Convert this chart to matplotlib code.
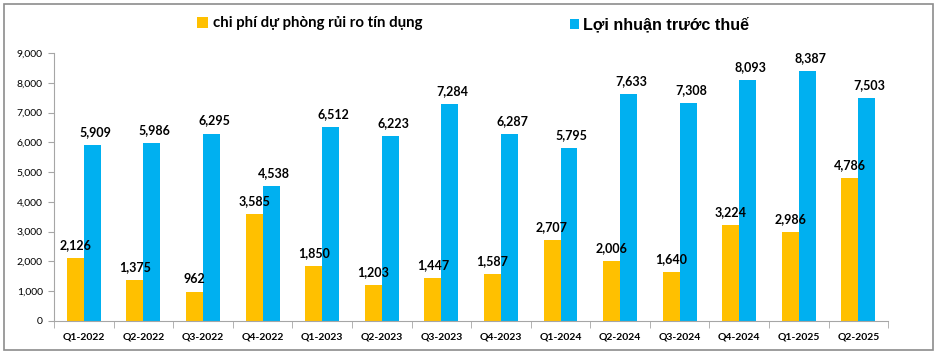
import matplotlib
matplotlib.use("Agg")
import matplotlib.pyplot as plt
from matplotlib.patches import Rectangle
import numpy as np

quarters = ["Q1-2022", "Q2-2022", "Q3-2022", "Q4-2022", "Q1-2023", "Q2-2023", "Q3-2023",
            "Q4-2023", "Q1-2024", "Q2-2024", "Q3-2024", "Q4-2024", "Q1-2025", "Q2-2025"]
provision = [2126, 1375, 962, 3585, 1850, 1203, 1447, 1587, 2707, 2006, 1640, 3224, 2986, 4786]
profit = [5909, 5986, 6295, 4538, 6512, 6223, 7284, 6287, 5795, 7633, 7308, 8093, 8387, 7503]

ORANGE = "#FFC000"
BLUE = "#00B0F0"
AXIS = "#A6A6A6"

fig = plt.figure(figsize=(9.37, 3.53), dpi=100)
ax = fig.add_axes([0.0576, 0.0907, 0.8904, 0.7593])

x = np.arange(len(quarters))
w = 0.285
b1 = ax.bar(x - w / 2, provision, w, color=ORANGE, label="chi phí dự phòng rủi ro tín dụng")
b2 = ax.bar(x + w / 2, profit, w, color=BLUE, label="Lợi nhuận trước thuế")

for xi, v in zip(x, provision):
    ax.annotate(f"{v:,}", (xi - w / 2, v), xytext=(0, 5), textcoords="offset points",
                ha="center", va="bottom", fontsize=9, fontweight="bold", family="Lato")
for xi, v in zip(x, profit):
    ax.annotate(f"{v:,}", (xi + w / 2, v), xytext=(2, 5), textcoords="offset points",
                ha="center", va="bottom", fontsize=9, fontweight="bold", family="Lato")

ax.set_xlim(-0.5, len(quarters) - 0.5)
ax.set_ylim(0, 9000)
ax.set_yticks(np.arange(0, 9001, 1000))
ax.set_yticklabels([f"{t:,}" for t in range(0, 9001, 1000)], fontsize=7.5, family="Lato")
ax.set_xticks(x)
ax.set_xticklabels(quarters, fontsize=7.5, fontweight="bold", family="Lato")
ax.set_xticks(np.arange(-0.5, len(quarters)), minor=True)
ax.tick_params(axis="x", which="major", length=0, pad=8)
ax.tick_params(axis="x", which="minor", length=5, color=AXIS)
ax.tick_params(axis="y", length=4, color=AXIS, pad=4)

for s in ("top", "right"):
    ax.spines[s].set_visible(False)
for s in ("left", "bottom"):
    ax.spines[s].set_color(AXIS)

fig.legend(handles=[b1], loc="center left", bbox_to_anchor=(0.204, 0.934), frameon=False,
           handlelength=0.75, handleheight=0.75, handletextpad=0.3, borderaxespad=0,
           prop={"family": "Lato", "weight": "bold", "size": 10.8})
fig.legend(handles=[b2], loc="center left", bbox_to_anchor=(0.601, 0.93), frameon=False,
           handlelength=0.6, handleheight=0.6, handletextpad=0.25, borderaxespad=0,
           prop={"family": "Liberation Sans", "weight": "bold", "size": 11.6})

fig.patches.append(Rectangle((4 / 937, 3 / 353), 929 / 937, 346 / 353, transform=fig.transFigure,
                             fill=False, edgecolor="#8C8C8C", linewidth=1.2))

fig.savefig("out.png", dpi=100)
